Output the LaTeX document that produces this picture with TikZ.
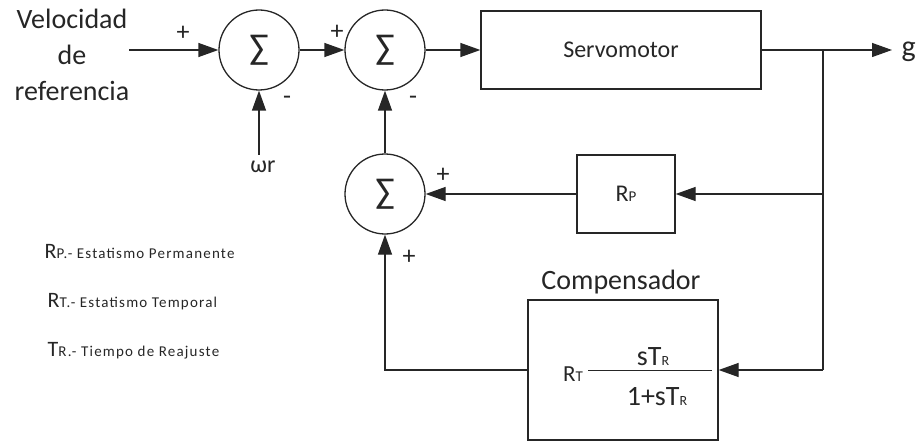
\documentclass[tikz,border=0pt]{standalone}
\usepackage{fontspec}
\setmainfont{Carlito}
\newfontfamily\spaced[LetterSpace=8]{Carlito}
\usetikzlibrary{arrows.meta}
\newcommand{\fsz}[1]{\fontsize{#1}{#1}\selectfont}
\begin{document}
\begin{tikzpicture}[x=1pt,y=-1pt,
  line width=1.3pt, color=black!85,
  arr/.style={-{Triangle[length=20pt,width=14pt]}},
  sumnode/.style={circle,draw,minimum size=80pt,inner sep=0pt,font=\fsz{36}},
  blk/.style={draw,inner sep=0pt},
  lbl/.style={font=\fsz{28},inner sep=0pt},
  sgn/.style={font=\fsz{26},inner sep=0pt}]
\useasboundingbox (0,0) rectangle (916,441);
% sums
\node[sumnode] (s1) at (259,50) {∑};
\node[sumnode] (s2) at (385,50) {∑};
\node[sumnode] (s3) at (385,194) {∑};
% blocks
\node[blk,minimum width=280pt,minimum height=78pt,font=\fsz{24}] (servo) at (621,50) {Servomotor};
\node[blk,minimum width=98pt,minimum height=78pt] (rp) at (626,194) {{\fsz{24}R}{\fsz{15}P}};
\node[blk,minimum width=190pt,minimum height=140pt] (comp) at (623,370) {};
\node[lbl] (comptitle) at (621,282) {Compensador};
% compensator content
\node[inner sep=0pt] (rt) at (573,374) {{\fsz{23}R}{\fsz{15}T}};
\coordinate (fl) at (588,370);
\coordinate (fr) at (712,370);
\draw[line width=1pt] (fl) -- (fr);
\node[inner sep=0pt] (num) at (653,357) {{\fsz{28}sT}{\fsz{14}R}};
\node[inner sep=0pt] (den) at (657,397) {{\fsz{28}1+sT}{\fsz{14}R}};
% input text
\node[inner sep=0pt,align=center,font=\fontsize{28}{36}\selectfont] (vel) at (72,55) {Velocidad\\de\\referencia};
\coordinate (in) at (129,50);
\node[font=\fsz{24},inner sep=0pt] (wr) at (263,167) {ωr};
\coordinate (wrtop) at (259,155);
% output
\coordinate (gout) at (892,50);
\node[font=\fsz{30},inner sep=0pt,anchor=base west] (g) at (901,57) {g};
\coordinate (br1) at (823,50);
\coordinate (br2) at (823,194);
\coordinate (br3) at (823,370);
\coordinate (lc) at (385,370);
% connectors
\draw[arr] (in) -- (s1);
\draw[arr] (s1) -- (s2);
\draw[arr] (s2) -- (servo);
\draw[arr] (servo.east) -- (gout);
\draw[arr] (wrtop) -- (s1.south);
\draw (br1) -- (br3);
\draw[arr] (br2) -- (rp.east);
\draw[arr] (rp.west) -- (s3.east);
\draw[arr] (s3) -- (s2);
\draw[arr] (br3) -- (comp.east);
\draw[arr] (comp.west) -- (lc) -- (s3.south);
% signs
\node[sgn] (p1) at (183,33) {+};
\node[sgn] (p2) at (337,32) {+};
\node[sgn] (m1) at (287,100) {-};
\node[sgn] (m2) at (413,100) {-};
\node[sgn] (p3) at (443,175) {+};
\node[sgn] (p4) at (409,257) {+};
% legend
\node[anchor=base west,inner sep=0pt] (l1) at (44,258) {{\fsz{22}R}{\spaced\fsz{15}P.- Estatismo Permanente}};
\node[anchor=base west,inner sep=0pt] (l2) at (47,307) {{\fsz{22}R}{\spaced\fsz{15}T.- Estatismo Temporal}};
\node[anchor=base west,inner sep=0pt] (l3) at (47,356) {{\fsz{22}T}{\spaced\fsz{15}R.- Tiempo de Reajuste}};
\end{tikzpicture}
\end{document}
